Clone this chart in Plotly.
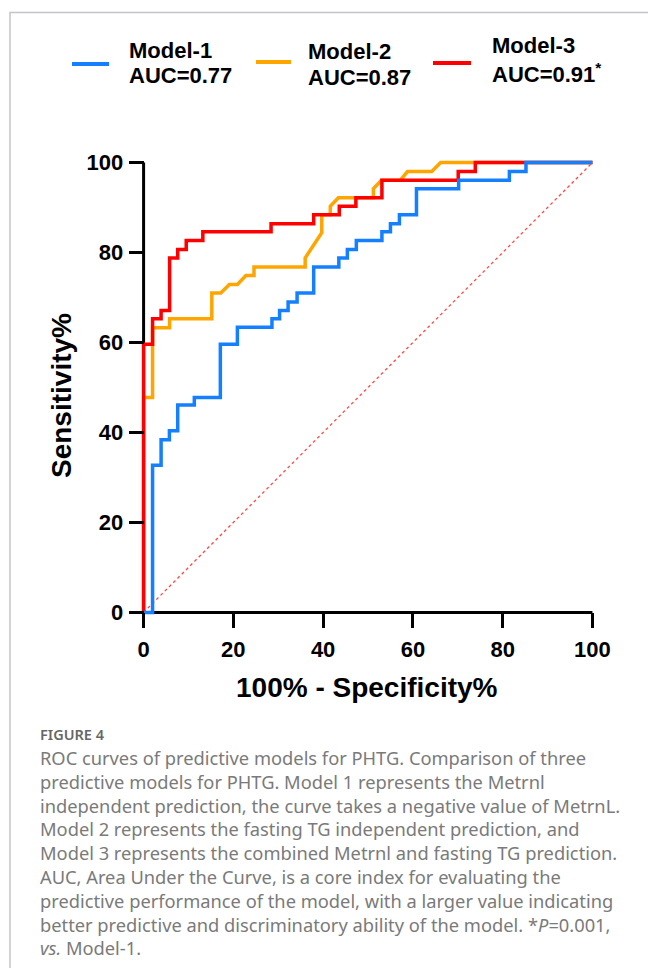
import plotly.graph_objects as go

# ---------------- data ----------------
# Model-1 (blue) ROC path: 100% - Specificity% vs Sensitivity%
m1_fpr = [0, 2.0, 2.0, 3.9, 3.9, 5.75, 5.75, 7.6, 7.6, 11.3, 11.3, 17.1, 17.1, 20.9, 20.9,
          28.6, 28.6, 30.3, 30.3, 32.2, 32.2, 34.2, 34.2, 37.9, 37.9, 43.5, 43.5, 45.4, 45.4,
          47.4, 47.4, 53.1, 53.1, 55.0, 55.0, 57.0, 57.0, 60.8, 60.8, 70.2, 70.2, 81.5, 81.5,
          85.2, 85.2, 100]
m1_tpr = [0, 0, 32.7, 32.7, 38.4, 38.4, 40.4, 40.4, 46.1, 46.1, 47.8, 47.8, 59.6, 59.6, 63.4,
          63.4, 65.3, 65.3, 67.1, 67.1, 69.0, 69.0, 71.0, 71.0, 76.8, 76.8, 78.8, 78.8, 80.7,
          80.7, 82.7, 82.7, 84.6, 84.6, 86.4, 86.4, 88.4, 88.4, 94.2, 94.2, 96.1, 96.1, 98.0,
          98.0, 100, 100]

# Model-2 (orange)
m2_fpr = [0, 0, 2.0, 2.0, 5.8, 5.8, 15.2, 15.2, 17.2, 19.1, 20.9, 22.8, 24.6, 24.6, 36.0, 36.0,
          39.7, 39.7, 41.6, 41.6, 43.4, 51.2, 51.2, 53.0, 57.2, 58.8, 64.2, 66.2, 100]
m2_tpr = [0, 47.8, 47.8, 63.3, 63.3, 65.3, 65.3, 71.0, 71.0, 72.9, 72.9, 74.9, 74.9, 76.8, 76.8, 78.8,
          84.4, 88.4, 88.4, 90.3, 92.2, 92.2, 94.2, 96.1, 96.1, 98.0, 98.0, 100, 100]

# Model-3 (red)
m3_fpr = [0, 0, 2.0, 2.0, 3.9, 3.9, 5.8, 5.8, 7.6, 7.6, 9.5, 9.5, 13.2, 13.2, 28.4, 28.4, 37.9,
          37.9, 43.6, 43.6, 47.3, 47.3, 53.1, 53.1, 70.1, 70.1, 73.9, 73.9, 100]
m3_tpr = [0, 59.6, 59.6, 65.3, 65.3, 67.1, 67.1, 78.8, 78.8, 80.7, 80.7, 82.7, 82.7, 84.6, 84.6,
          86.4, 86.4, 88.4, 88.4, 90.3, 90.3, 92.2, 92.2, 96.1, 96.1, 98.0, 98.0, 100, 100]

# chance line
diag_x = [0, 100]
diag_y = [0, 100]

tick_vals = [0, 20, 40, 60, 80, 100]
tick_text = ["0", "20", "40", "60", "80", "100"]

model_names = ["Model-1", "Model-2", "Model-3"]
model_auc = ["AUC=0.77", "AUC=0.87", "AUC=0.91<sup>*</sup>"]
model_colors = ["#1580FF", "#FFA500", "#FF0000"]

caption_head = "FIGURE 4"
caption_lines = [
    "ROC curves of predictive models for PHTG. Comparison of three",
    "predictive models for PHTG. Model 1 represents the Metrnl",
    "independent prediction, the curve takes a negative value of MetrnL.",
    "Model 2 represents the fasting TG independent prediction, and",
    "Model 3 represents the combined Metrnl and fasting TG prediction.",
    "AUC, Area Under the Curve, is a core index for evaluating the",
    "predictive performance of the model, with a larger value indicating",
    "better predictive and discriminatory ability of the model. *<i>P</i>=0.001,",
    "<i>vs.</i> Model-1.",
]

# ---------------- layout geometry ----------------
W, H = 648, 968
ML, MR, MT, MB = 140, 52, 159, 352
PW = W - ML - MR
PH = H - MT - MB
RANGE = [-0.8, 100.8]
AXPOS = (0 - RANGE[0]) / (RANGE[1] - RANGE[0])   # where value 0 sits in the domain


def px(xp):
    return (xp - ML) / PW


def py(yp):
    return (MT + PH - yp) / PH


FONT = "Liberation Sans, Arial, sans-serif"
CAP_FONT = "Noto Sans, Open Sans, sans-serif"
LW = 3.5

fig = go.Figure()

fig.add_trace(go.Scatter(x=diag_x, y=diag_y, mode="lines",
                         line=dict(color="rgba(255,40,40,0.85)", width=1.3, dash="dot"),
                         hoverinfo="skip", showlegend=False))
fig.add_trace(go.Scatter(x=m2_fpr, y=m2_tpr, mode="lines", name="Model-2",
                         line=dict(color=model_colors[1], width=LW), showlegend=False))
fig.add_trace(go.Scatter(x=m3_fpr, y=m3_tpr, mode="lines", name="Model-3",
                         line=dict(color=model_colors[2], width=LW), showlegend=False))
fig.add_trace(go.Scatter(x=m1_fpr, y=m1_tpr, mode="lines", name="Model-1",
                         line=dict(color=model_colors[0], width=LW), showlegend=False))

shapes = []
# axis lines (data coordinates, ending exactly at 0 and 100)
shapes.append(dict(type="line", xref="x", yref="y", x0=0, x1=0, y0=0, y1=100,
                   line=dict(color="black", width=3), layer="below"))
shapes.append(dict(type="line", xref="x", yref="y", x0=0, x1=100, y0=0, y1=0,
                   line=dict(color="black", width=3), layer="below"))

# outer frame (open at right/bottom as in the cropped reference)
shapes.append(dict(type="rect", xref="paper", yref="paper",
                   x0=px(10), x1=px(W + 40), y0=py(12.5), y1=py(H + 40),
                   line=dict(color="#c4c4cc", width=1.5), fillcolor="rgba(0,0,0,0)",
                   layer="below"))

# legend samples
leg_lines = [(72, 109, 64), (256, 291, 62), (433, 471, 63)]
for (xa, xb, yy), c in zip(leg_lines, model_colors):
    shapes.append(dict(type="line", xref="paper", yref="paper", x0=px(xa), x1=px(xb),
                       y0=py(yy), y1=py(yy), line=dict(color=c, width=4)))

annotations = []
leg_text_pos = [(127, 50, 75), (306, 52, 77), (490, 45, 73)]
for (xt, y1, y2), nm, auc in zip(leg_text_pos, model_names, model_auc):
    annotations.append(dict(x=px(xt), y=py(y1), xref="paper", yref="paper", text=nm,
                            showarrow=False, xanchor="left", yanchor="middle",
                            font=dict(family=FONT, size=22, color="black", weight="bold")))
    annotations.append(dict(x=px(xt), y=py(y2), xref="paper", yref="paper", text=auc,
                            showarrow=False, xanchor="left", yanchor="middle",
                            font=dict(family=FONT, size=22, color="black", weight="bold")))

# axis titles
annotations.append(dict(x=px(367), y=py(687), xref="paper", yref="paper",
                        text="100% - Specificity%", showarrow=False,
                        xanchor="center", yanchor="middle",
                        font=dict(family=FONT, size=28, color="black", weight="bold")))
annotations.append(dict(x=px(61), y=py(396), xref="paper", yref="paper",
                        text="Sensitivity%", showarrow=False, textangle=-90,
                        xanchor="center", yanchor="middle",
                        font=dict(family=FONT, size=28, color="black", weight="bold")))

# caption
annotations.append(dict(x=px(38), y=py(734), xref="paper", yref="paper", text=caption_head,
                        showarrow=False, xanchor="left", yanchor="middle",
                        font=dict(family=CAP_FONT, size=14.5, color="#666666", weight=600)))
cap_y = [757.3, 781.2, 805.2, 828.9, 852.6, 876.3, 900.2, 924.0, 947.8]
for yy, line in zip(cap_y, caption_lines):
    annotations.append(dict(x=px(38), y=py(yy), xref="paper", yref="paper", text=line,
                            showarrow=False, xanchor="left", yanchor="middle",
                            font=dict(family=CAP_FONT, size=18.3, color="#7a7a7a")))

axis_common = dict(showgrid=False, zeroline=False, showline=False,
                   ticks="outside", ticklen=15, tickwidth=3, tickcolor="black",
                   tickvals=tick_vals, ticktext=tick_text,
                   tickfont=dict(family=FONT, size=22, color="black", weight="bold"),
                   range=RANGE, fixedrange=True, anchor="free", position=AXPOS)

fig.update_layout(
    width=W, height=H, autosize=False,
    margin=dict(l=ML, r=MR, t=MT, b=MB, pad=0),
    paper_bgcolor="white", plot_bgcolor="white",
    xaxis=dict(**axis_common, ticklabelstandoff=2),
    yaxis=dict(**axis_common, ticklabelstandoff=1),
    shapes=shapes, annotations=annotations, showlegend=False,
)

fig.write_html("out.html", config={"displayModeBar": False},
               post_script="document.body.style.margin='0';document.body.style.overflow='hidden';")
